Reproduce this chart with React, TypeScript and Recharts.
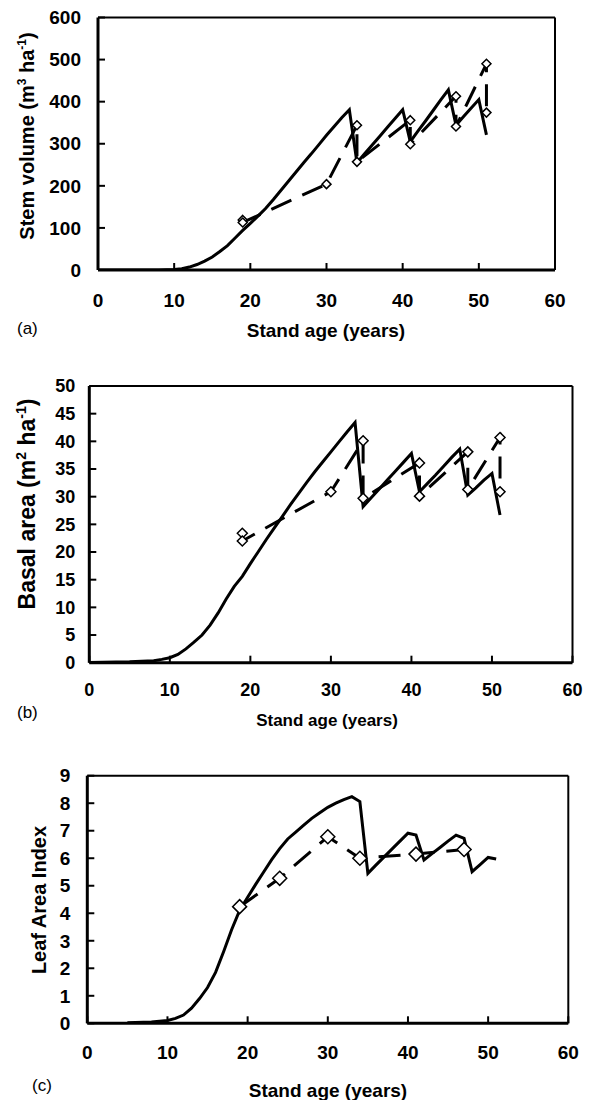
import React from 'react';
import { LineChart, Line, XAxis, YAxis, ReferenceLine, Label } from 'recharts';

const FONT = "'Liberation Sans', Arial, Helvetica, sans-serif";

const ageTicks = [0, 10, 20, 30, 40, 50, 60];

// (a) Stem volume, m3 ha-1
const volumeModelAges = [0, 8, 9, 10, 11, 12, 13, 14, 15, 16, 17, 18, 19, 20, 21, 22, 23, 24, 25, 26, 27, 28, 29, 30, 31, 32, 33, 34, 35, 36, 37, 38, 39, 40, 41, 42, 43, 44, 45, 46, 47, 48, 49, 50, 51];
const volumeModelValues = [0, 0, 0.5, 1, 3, 7, 13, 21, 31, 44, 58, 76, 94, 111, 128, 146, 167, 189, 211, 233, 255, 276, 298, 320, 341, 362, 381, 255, 276, 297, 318, 339, 360, 381, 305, 330, 354, 379, 404, 428, 344, 365, 385, 405, 321];
const volumeObsAges = [19, 19, 30, 34, 34, 41, 41, 47, 47, 51, 51];
const volumeObsValues = [119, 113, 204, 344, 257, 356, 299, 413, 341, 490, 374];
const volumeTicks = [0, 100, 200, 300, 400, 500, 600];

// (b) Basal area, m2 ha-1
const basalModelAges = [0, 5, 8, 9, 10, 11, 12, 13, 14, 15, 16, 17, 18, 19, 20, 21, 22, 23, 24, 25, 26, 27, 28, 29, 30, 31, 32, 33, 34, 35, 36, 37, 38, 39, 40, 41, 42, 43, 44, 45, 46, 47, 48, 49, 50, 51];
const basalModelValues = [0.05, 0.15, 0.35, 0.6, 0.9, 1.5, 2.5, 3.7, 5.0, 6.8, 9.0, 11.5, 13.8, 15.6, 17.9, 20.1, 22.3, 24.4, 26.5, 28.6, 30.6, 32.6, 34.5, 36.3, 38.1, 39.9, 41.7, 43.4, 28.2, 29.8, 31.4, 33.0, 34.6, 36.2, 37.8, 30.9, 32.4, 33.9, 35.5, 37.1, 38.6, 30.3, 31.6, 33.0, 34.2, 26.7];
const basalObsAges = [19, 19, 30, 34, 34, 41, 41, 47, 47, 51, 51];
const basalObsValues = [23.4, 22.0, 30.9, 40.1, 29.7, 36.1, 30.1, 38.1, 31.3, 40.7, 30.9];
const basalTicks = [0, 5, 10, 15, 20, 25, 30, 35, 40, 45, 50];

// (c) Leaf area index
const laiModelAges = [5, 8, 10, 11, 12, 13, 14, 15, 16, 17, 18, 19, 20, 21, 22, 23, 24, 25, 26, 27, 28, 29, 30, 31, 32, 33, 34, 35, 36, 37, 38, 39, 40, 41, 42, 43, 44, 45, 46, 47, 48, 49, 50, 51];
const laiModelValues = [0.02, 0.05, 0.1, 0.18, 0.3, 0.55, 0.9, 1.3, 1.85, 2.6, 3.4, 4.1, 4.58, 5.05, 5.5, 5.95, 6.35, 6.7, 6.95, 7.2, 7.45, 7.65, 7.85, 8.0, 8.13, 8.24, 8.06, 5.45, 5.75, 6.04, 6.33, 6.62, 6.91, 6.84, 5.94, 6.17, 6.39, 6.62, 6.84, 6.72, 5.51, 5.77, 6.03, 5.97];
const laiObsAges = [19, 24, 30, 34, 41, 47];
const laiObsValues = [4.24, 5.27, 6.78, 6.0, 6.15, 6.32];
const laiTicks = [0, 1, 2, 3, 4, 5, 6, 7, 8, 9];

type Pt = { age: number; value: number };
const pairs = (ages: number[], values: number[]): Pt[] =>
  ages.map((age, i) => ({ age, value: values[i] }));

type Part = { text: string; sup?: boolean };

function diamondDot(half: number) {
  return (props: any) => {
    const { cx, cy, index } = props;
    if (cx == null || cy == null) return <g key={`d-${index}`} />;
    return (
      <path
        key={`d-${index}`}
        d={`M${cx},${cy - half}L${cx + half},${cy}L${cx},${cy + half}L${cx - half},${cy}Z`}
        fill="#fff"
        stroke="#000"
        strokeWidth={1.5}
      />
    );
  };
}

function VerticalTitle({ x, y, size, parts }: { x: number; y: number; size: number; parts: Part[] }) {
  const supSize = Math.round(size * 0.62);
  const shift = size * 0.4;
  return (
    <text
      x={x}
      y={y}
      transform={`rotate(-90 ${x} ${y})`}
      textAnchor="middle"
      fontFamily={FONT}
      fontWeight="bold"
      fontSize={size}
      fill="#000"
    >
      {parts.map((p, i) =>
        p.sup ? (
          <tspan key={i} fontSize={supSize} dy={-shift}>
            {p.text}
          </tspan>
        ) : (
          <tspan key={i} dy={i > 0 && parts[i - 1].sup ? shift : 0}>
            {p.text}
          </tspan>
        )
      )}
    </text>
  );
}

type PanelProps = {
  top: number;
  height: number;
  marginTop: number;
  marginRight: number;
  yAxisWidth: number;
  xAxisHeight: number;
  yMax: number;
  yTicks: number[];
  model: Pt[];
  observed: Pt[];
  markerHalf: number;
  tickFont: number;
  xTickGap: number;
  yTickGap: number;
  yTitle: Part[];
  yTitleX: number;
  yTitleY: number;
  yTitleSize: number;
  xTitleX: number;
  xTitleY: number;
  xTitleSize: number;
  letter: string;
  letterX: number;
  letterY: number;
};

const TICK_LEN = 7;

function Panel(p: PanelProps) {
  const width = 597;
  const tickStyle = { fill: '#000', fontSize: p.tickFont, fontWeight: 'bold', fontFamily: FONT };
  return (
    <div style={{ position: 'absolute', left: 0, top: p.top, width, height: p.height }}>
      <LineChart
        width={width}
        height={p.height}
        margin={{ top: p.marginTop, right: p.marginRight, left: 0, bottom: 0 }}
      >
        <XAxis
          type="number"
          dataKey="age"
          domain={[0, 60]}
          ticks={ageTicks}
          allowDataOverflow
          height={p.xAxisHeight}
          axisLine={{ stroke: '#000', strokeWidth: 3 }}
          tickLine={{ stroke: '#000', strokeWidth: 2 }}
          tickSize={-TICK_LEN}
          tickMargin={TICK_LEN + p.xTickGap}
          tick={tickStyle}
        >
          <Label
            content={() => (
              <g>
                <text
                  x={p.xTitleX}
                  y={p.xTitleY}
                  textAnchor="middle"
                  fontFamily={FONT}
                  fontWeight="bold"
                  fontSize={p.xTitleSize}
                  fill="#000"
                >
                  Stand age (years)
                </text>
                <text x={p.letterX} y={p.letterY} fontFamily={FONT} fontSize={17} fill="#000">
                  {p.letter}
                </text>
              </g>
            )}
          />
        </XAxis>
        <YAxis
          type="number"
          dataKey="value"
          domain={[0, p.yMax]}
          ticks={p.yTicks}
          allowDataOverflow
          width={p.yAxisWidth}
          axisLine={{ stroke: '#000', strokeWidth: 3 }}
          tickLine={{ stroke: '#000', strokeWidth: 2 }}
          tickSize={-TICK_LEN}
          tickMargin={TICK_LEN + p.yTickGap}
          tick={tickStyle}
        >
          <Label
            content={() => (
              <VerticalTitle x={p.yTitleX} y={p.yTitleY} size={p.yTitleSize} parts={p.yTitle} />
            )}
          />
        </YAxis>
        <ReferenceLine y={p.yMax} stroke="#000" strokeWidth={2} />
        <ReferenceLine x={60} stroke="#000" strokeWidth={2} />
        <Line
          data={p.model}
          dataKey="value"
          type="linear"
          stroke="#000"
          strokeWidth={3}
          dot={false}
          activeDot={false}
          isAnimationActive={false}
        />
        <Line
          data={p.observed}
          dataKey="value"
          type="linear"
          stroke="#000"
          strokeWidth={3}
          strokeDasharray="22 12"
          dot={diamondDot(p.markerHalf)}
          activeDot={false}
          isAnimationActive={false}
        />
      </LineChart>
    </div>
  );
}

export default function App() {
  return (
    <div style={{ position: 'absolute', left: 0, top: 0, width: 597, height: 1100, background: '#fff' }}>
      <Panel
        top={0}
        height={345}
        marginTop={17.5}
        marginRight={42}
        yAxisWidth={98}
        xAxisHeight={75}
        yMax={600}
        yTicks={volumeTicks}
        model={pairs(volumeModelAges, volumeModelValues)}
        observed={pairs(volumeObsAges, volumeObsValues)}
        markerHalf={4.5}
        tickFont={19}
        xTickGap={24}
        yTickGap={17}
        yTitle={[{ text: 'Stem volume (m' }, { text: '3', sup: true }, { text: ' ha' }, { text: '-1', sup: true }, { text: ')' }]}
        yTitleX={34}
        yTitleY={136}
        yTitleSize={20}
        xTitleX={326}
        xTitleY={337}
        xTitleSize={19}
        letter="(a)"
        letterX={17}
        letterY={334}
      />
      <Panel
        top={360}
        height={380}
        marginTop={26}
        marginRight={24.5}
        yAxisWidth={89.3}
        xAxisHeight={77.3}
        yMax={50}
        yTicks={basalTicks}
        model={pairs(basalModelAges, basalModelValues)}
        observed={pairs(basalObsAges, basalObsValues)}
        markerHalf={5}
        tickFont={18}
        xTickGap={21}
        yTickGap={14}
        yTitle={[{ text: 'Basal area (m' }, { text: '2', sup: true }, { text: ' ha' }, { text: '-1', sup: true }, { text: ')' }]}
        yTitleX={35}
        yTitleY={144}
        yTitleSize={23}
        xTitleX={327}
        xTitleY={366}
        xTitleSize={17}
        letter="(b)"
        letterX={17}
        letterY={358}
      />
      <Panel
        top={745}
        height={355}
        marginTop={30.7}
        marginRight={28.7}
        yAxisWidth={87.3}
        xAxisHeight={76.7}
        yMax={9}
        yTicks={laiTicks}
        model={pairs(laiModelAges, laiModelValues)}
        observed={pairs(laiObsAges, laiObsValues)}
        markerHalf={7}
        tickFont={19}
        xTickGap={22}
        yTickGap={17}
        yTitle={[{ text: 'Leaf Area Index' }]}
        yTitleX={46}
        yTitleY={155}
        yTitleSize={20}
        xTitleX={328}
        xTitleY={352}
        xTitleSize={19}
        letter="(c)"
        letterX={32}
        letterY={346}
      />
    </div>
  );
}
